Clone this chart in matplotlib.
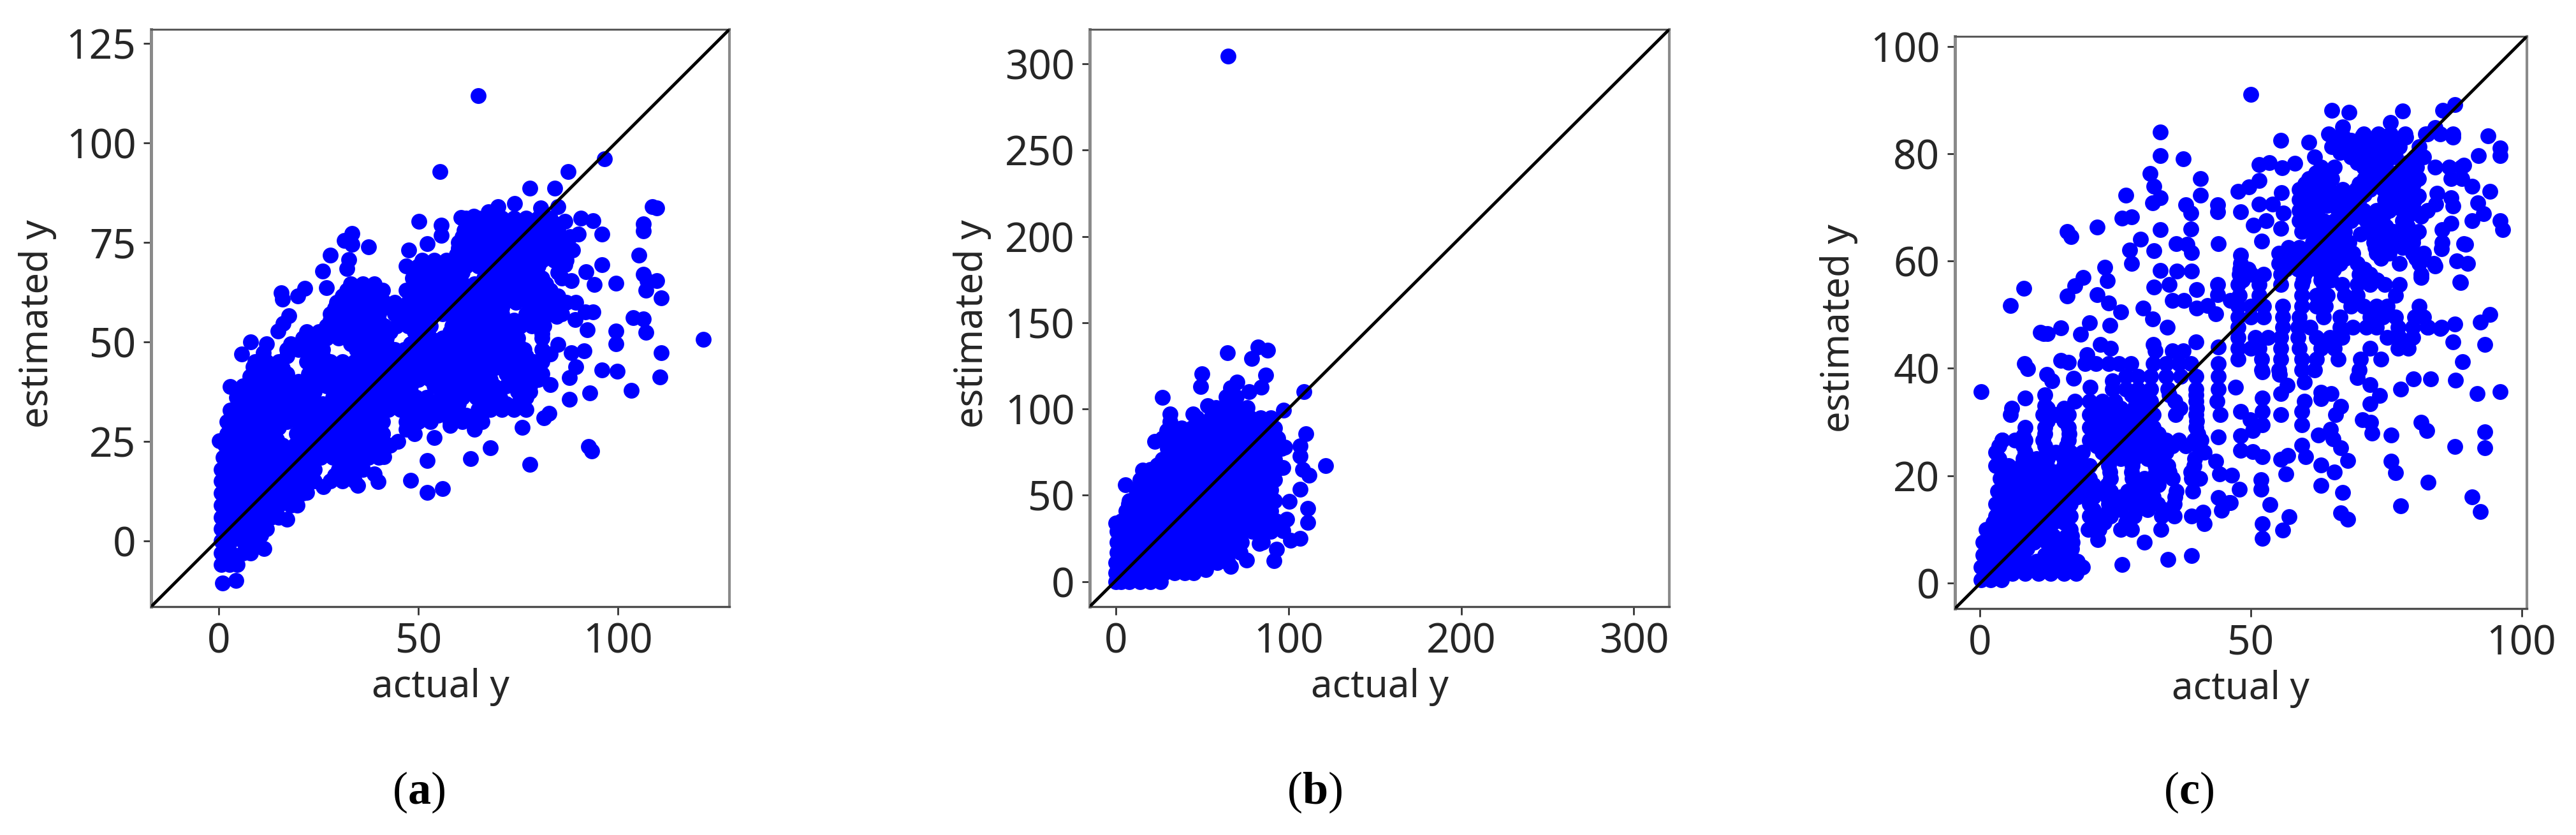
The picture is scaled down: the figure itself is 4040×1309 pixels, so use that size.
import matplotlib
matplotlib.use("Agg")
import matplotlib.pyplot as plt

W, H = 4040, 1309
DOT_COLOR = "#0000ff"

# panel a: separate points (actual, estimated)
a_sparse = [
    (65, 111.8), (55.4, 92.8), (96.6, 96), (87.5, 92.8), (78, 88.6), (84.2, 88.6), (60.7, 81.3), (63.9, 81.6),
    (67.6, 82.7), (69.9, 83.9), (74.1, 84.7), (80.7, 83.6), (85, 83.9), (50.1, 80.2), (55.8, 79.3), (55.8, 76.7),
    (52.2, 74.7), (47.6, 73), (33.3, 77.3), (31.4, 75.4), (37.5, 73.8), (27.9, 71.8), (33.3, 74.5), (32.6, 70.7),
    (32.1, 68.4), (26, 67.7), (26.9, 63.6), (21.6, 63.4), (15.6, 62.4), (19.8, 61.6), (15.9, 60.8), (17.6, 56.5),
    (16.1, 54.6), (14.8, 52.7), (8, 50), (12, 49.5), (5.7, 46.9), (11.1, 47.2), (8.5, 43.8), (7.7, 41.4), (11.9, 41.1),
    (2.8, 38.7), (6, 37.1), (2.8, 32.8), (0.1, 25.1), (0.9, -10.6), (4.3, -9.9), (11.3, -1.9), (17.1, 5.5), (19.6, 8.9),
    (22, 12.2), (26.2, 13.6), (34.8, 14), (39.9, 14.9), (38.9, 16.9), (35.9, 19.6), (41.3, 21.2), (44.8, 25), (48, 15.2),
    (52.2, 12.2), (56, 13.2), (52.3, 20.2), (63.1, 20.7), (68.1, 23.4), (78, 19.2), (76, 28.6), (81.5, 31), (82.7, 32.1),
    (87.8, 35.5), (92.7, 23.7), (93.4, 22.6), (93, 37.2), (96.1, 43), (99.8, 42.7), (103.4, 37.8), (110.6, 41.2),
    (110.9, 47.2), (121.5, 50.7), (99.6, 49.5), (99.6, 52.7), (103.8, 56.1), (106.4, 55.8), (107.1, 52.4), (110.9, 61),
    (109.8, 65.3), (106.4, 67), (107.3, 65.3), (107, 63), (99.6, 64.7), (105.3, 71.8), (106.4, 77.9), (106.4, 79.6),
    (108.7, 83.9), (109.8, 83.6), (96.1, 77), (93.8, 80.4), (90.7, 81), (96.1, 69.4), (94.1, 64.4), (92.1, 67.6),
    (93.8, 57.5), (91.8, 57.5), (92.4, 53), (91.5, 47.8), (88.4, 47.2), (87.8, 41), (89.5, 43.8), (83, 39.2), (85, 49.3),
    (84.7, 56.4), (89.3, 55.6), (90.1, 77), (88.7, 73), (86.7, 80.2), (86.7, 75), (86.7, 69.3), (88.4, 65.3), (89.5, 60),
    (81, 52.1), (58, 29), (64, 28), (49, 27), (47, 28), (54, 26), (41, 27), (66, 32), (20, 40), (26, 33.5), (44, 37),
    (38, 45), (44, 60), (44, 57), (44.5, 54), (44, 48), (52, 36), (56, 39), (70, 49), (73, 41), (81, 45), (83, 47),
]
# panel a: the filled part, estimated value -> actual values along that row
a_rows = {
    -6: [0.6, 2.6, 4.6],
    -3: [0.6, 3, 6, 8],
    0: [0.6, 3, 6, 9],
    3: [0.6, 3, 6, 9, 12],
    6: [0.6, 3, 6, 8, 13, 15],
    9: [0.6, 3, 6, 9, 12, 15, 18],
    12: [0.6, 3, 6, 9, 12, 15, 18, 21],
    15: [0.6, 3, 6, 9, 12, 15, 18, 21, 24, 28, 31, 34],
    18: [0.6, 3, 6, 9, 12, 15, 18, 21, 24, 30, 33, 36],
    21: [1, 4.5, 7.5, 10.5, 13.5, 16.5, 19.5, 22.5, 25.5, 28.5, 31.5, 34.5, 37.5, 40],
    24: [1.5, 4, 7, 10, 13, 16, 19, 22, 25, 28, 31, 34, 37, 40, 43],
    27: [2, 4.5, 7.5, 10.5, 13.5, 19.5, 22.5, 25.5, 28.5, 31.5, 34.5, 37.5, 41],
    30: [2, 5, 8, 11, 14, 17, 20, 23, 26, 29, 32, 35, 38, 41, 47, 50, 53, 58, 61, 64, 66],
    33: [3.5, 6.5, 9.5, 12.5, 15.5, 18.5, 21.5, 24.5, 27.5, 30.5, 33.5, 36.5, 39.5, 42.5, 45.5, 48, 53.5, 56.5, 59.5, 65, 68,
         71, 74, 77],
    36: [4.5, 7.5, 10.5, 13.5, 16.5, 19.5, 22.5, 28.5, 31.5, 34.5, 37.5, 40.5, 43.5, 46.5, 49.5, 55.5, 58.5, 61, 64.5, 67.5,
         70.5, 77],
    39: [6, 9, 12, 15, 18, 21, 24, 27, 30, 33, 36, 39, 42, 45, 48, 54, 57, 60, 63, 66, 69, 72, 78],
    42: [9, 11, 14, 17, 22.5, 25.5, 28.5, 31.5, 34.5, 37.5, 40.5, 43.5, 46.5, 49.5, 52.5, 55.5, 58.5, 61.5, 64.5, 67.5, 72,
         75, 78, 81],
    45: [9, 12, 15, 22, 25, 28, 31, 34, 37, 40, 43, 46, 49, 52, 55, 58, 61, 64, 67, 70, 73, 76, 79],
    48: [17, 20, 23, 26, 34.5, 37.5, 40.5, 46.5, 49.5, 52.5, 55.5, 58.5, 61.5, 64.5, 67.5, 70.5, 73.5, 76.5, 81],
    51: [21, 24, 27, 30, 33, 36, 39, 42, 50, 53, 56, 59, 62, 65, 68, 71, 74, 75, 81],
    54: [27, 30, 33, 36, 39, 41.5, 47.5, 50.5, 53, 58.5, 61.5, 64.5, 67.5, 72.5, 75.5, 78.5, 81.5],
    57: [28, 31, 34, 37, 40, 47, 50, 53, 56, 59, 62, 65, 68, 71, 77, 80, 83, 86],
    60: [29.5, 32.5, 35.5, 38.5, 41.5, 47.5, 50.5, 53.5, 56.5, 59.5, 62.5, 65.5, 68.5, 71.5, 74.5, 77.5, 80.5, 83, 87],
    63: [32, 35, 38, 41, 47, 50, 53, 56, 59, 62, 65, 68, 71, 74, 77, 80, 83],
    66: [48.5, 51.5, 54.5, 57.5, 60.5, 66.5, 69.5, 72.5, 75.5, 78.5, 81, 86],
    69: [47, 50, 53, 56, 59, 62, 65, 68, 71, 74, 77, 80, 86],
    72: [59.5, 62.5, 65.5, 68.5, 71.5, 74.5, 77.5, 80.5, 83.5, 86],
    75: [60, 63, 66, 69, 72, 75, 78, 81, 84, 87],
    78: [61.5, 64.5, 67.5, 70.5, 73.5, 76.5, 79.5, 82.5, 85],
    81: [62, 65, 68, 71, 74, 77, 80, 83],
}
# panel a: rows in between, where the picture is solid
a_mid_rows = {
    1.5: [1.8, 4.5, 7.5, 10.5],
    4.5: [1.8, 4.5, 7.5, 10.5],
    7.5: [1.8, 4.5, 7, 11, 14],
    10.5: [1.8, 4.5, 7.5, 10.5, 13.5, 16.5],
    13.5: [1.8, 4.5, 7.5, 10.5, 13.5, 16.5, 19.5],
    16.5: [1.8, 4.5, 7.5, 10.5, 13.5, 16.5, 19.5, 22.5, 29, 32],
    19.5: [2, 5, 8, 11, 14, 17, 20, 23, 31, 34],
    22.5: [2.7, 6, 9, 12, 15, 18, 21, 24, 27, 30, 33, 36, 39],
    25.5: [3, 5.5, 8.5, 11.5, 14.5, 21, 24, 27, 30, 33, 36, 39],
    28.5: [3.5, 6, 9, 12, 15, 21, 24, 27, 30, 33, 36, 39],
    31.5: [4, 7, 10, 13, 16, 19, 22, 25, 28, 31, 34, 37, 40, 51, 55, 59, 62, 65],
    34.5: [5, 8, 11, 14, 17, 20, 23, 26, 29, 32, 35, 38, 41, 44, 47, 51, 55, 60, 66, 69, 72, 75],
    37.5: [6, 9, 12, 15, 18, 21, 24, 30, 33, 36, 39, 42, 45, 48, 56, 59, 63, 66, 69, 75, 78],
    40.5: [8.5, 10, 13, 16, 23, 26, 29, 32, 35, 38, 41, 44, 47, 50, 53, 56, 59, 62, 65, 68, 74, 77, 80],
    43.5: [10, 13, 16, 24, 27, 30, 33, 36, 39, 42, 45, 48, 51, 54, 57, 60, 63, 66, 69, 73, 76, 79],
    46.5: [17, 23, 26, 35, 38, 41, 44, 47, 50, 53, 56, 59, 62, 65, 68, 71, 74, 77],
    49.5: [18, 21, 24, 33, 36, 39, 42, 48, 51, 54, 57, 60, 63, 66, 69, 72, 75],
    52.5: [22, 25, 28, 31, 34, 37, 40, 43, 49, 52, 58, 61, 64, 67, 70, 73],
    55.5: [28, 31, 34, 37, 40, 46, 49, 52, 59, 62, 65, 68, 71, 74, 77, 80],
    58.5: [29, 32, 35, 38, 41, 47, 50, 53, 56, 59, 62, 65, 68, 71, 78, 81, 84],
    61.5: [31, 34, 37, 40, 48, 51, 54, 57, 60, 63, 66, 69, 72, 75, 78, 81, 85],
    64.5: [33, 36, 39, 49, 52, 55, 58, 61, 64, 67, 70, 73, 76, 79, 82],
    67.5: [49, 52, 55, 58, 61, 67, 70, 73, 76, 79, 85],
    70.5: [51, 54, 57, 60, 63, 66, 69, 72, 75, 78, 81, 84, 87],
    73.5: [60, 63, 66, 69, 72, 75, 78, 81, 84, 87],
    76.5: [61, 64, 67, 70, 73, 76, 79, 82, 85, 88],
    79.5: [62, 65, 68, 71, 74, 77, 80, 83, 85],
}

b_sparse = [
    (65, 304.3), (64.7, 132.6), (82.6, 136), (87.9, 134.2), (78.6, 129.2), (86.8, 119.7), (50, 120.3), (49.2, 112.9),
    (70.1, 115.7), (66.4, 112.3), (84.3, 112.6), (109.1, 110.2), (26.9, 106.8), (77.2, 110.2), (97.3, 99.4),
    (53.2, 101.8), (44.7, 97.2), (31.4, 97.2), (31.4, 92.6), (110, 85.8), (106.9, 78.8), (106.9, 72.6), (121.6, 67.1),
    (108.3, 64.9), (112, 61.8), (106.9, 53.5), (100.4, 46.5), (111.1, 42.5), (111.1, 34.2), (97, 29.5), (106.9, 24.9),
    (101.2, 24), (93.3, 18.8), (91.6, 12), (75.8, 12.6), (66.7, 8.9), (52.3, 7.1), (5.7, 56), (15.6, 64.6), (24, 67.4),
    (0, 33.8), (7.4, 44.9), (22.6, 81.2), (29.7, 87.4), (98, 78), (97, 66), (99, 36), (83, 22),
]
b_rows = {
    0: [0, 3, 8, 14, 20, 26],
    5: [0, 4, 10, 16, 22, 28, 34, 40, 45],
    11: [0, 5, 11, 17, 23, 29, 35, 41, 47, 53, 59, 65],
    17: [1, 6, 12, 18, 24, 30, 36, 42, 48, 54, 60, 66, 72],
    23: [1, 7, 13, 19, 25, 31, 37, 43, 49, 55, 61, 67, 73, 85],
    29: [1, 7, 13, 19, 25, 31, 37, 43, 49, 55, 61, 67, 73, 79, 85, 90],
    35: [3, 9, 15, 21, 27, 33, 39, 45, 51, 57, 63, 69, 75, 81, 87, 93],
    41: [6, 12, 18, 24, 30, 36, 42, 48, 54, 60, 66, 72, 78, 84, 90],
    47: [8, 14, 20, 26, 32, 38, 44, 50, 56, 62, 68, 74, 80, 86, 92],
    53: [12, 18, 24, 30, 36, 42, 48, 54, 60, 66, 72, 78, 84, 90],
    59: [14, 20, 26, 32, 38, 44, 50, 56, 62, 68, 74, 80, 86, 92],
    65: [20, 26, 32, 38, 44, 50, 56, 62, 68, 74, 80, 86, 93],
    71: [27, 33, 39, 45, 51, 57, 63, 69, 75, 81, 87, 92],
    77: [30, 36, 42, 48, 54, 60, 66, 72, 78, 84, 90, 96],
    83: [27, 34, 40, 46, 52, 58, 64, 70, 76, 82, 88, 94],
    89: [31, 38, 44, 50, 56, 62, 68, 74, 80, 86, 92],
    95: [47, 55, 60, 66, 72, 78, 84, 90],
    101: [58, 64, 70, 76],
    107: [64, 70],
}

c_sparse = [
    (50, 91.1), (65, 88.1), (68.2, 87.7), (78, 88), (85.5, 88.1), (87.7, 89.2), (67, 85), (75.8, 85.9), (33.3, 84),
    (33.3, 79.7), (37.5, 79.1), (55.6, 82.5), (60.7, 82.2), (70.6, 83.4), (78.6, 83.1),
    (82.3, 83.7), (84.1, 84.9), (87.3, 83.1), (93.8, 83.4), (96, 81.1), (96, 79.7), (92, 79.7), (89.4, 77.9),
    (31.4, 76.3), (40.7, 75.4), (32.1, 74), (40.7, 72.3), (26.9, 72.3), (33.3, 71.8), (31.9, 70.8), (38, 70.5),
    (38.9, 69), (43.9, 70.5), (43.9, 69.2), (49.7, 73.8), (47.7, 73), (51.6, 75), (51.6, 78), (53.4, 78.4),
    (55.8, 77.4), (58.1, 78.2), (55.7, 72.8), (48.1, 69.2), (51.6, 70.6), (54, 70.6), (56, 69), (50.5, 66.7), (52.8, 67.5),
    (55.6, 66.1), (52, 63.7), (44, 63.3), (38.9, 66), (33.3, 65.9), (26.2, 68), (28, 68.2), (16.1, 65.5), (16.8, 64.6),
    (21.7, 66.3), (29.6, 64.1), (36.2, 63.3), (38.2, 63.1), (39.1, 61.6), (32.1, 61.9), (27.6, 62.1), (28, 59.6),
    (23.1, 58.8), (23.5, 56.4), (33.3, 58.3), (36.4, 58.1), (39.1, 58.1), (19.1, 56.9), (17.5, 55.4), (16.1, 53.5),
    (21.7, 53.7), (8.1, 54.9), (5.7, 51.7), (32.1, 55.1), (35, 55.6), (40, 54.7), (35.5, 52.7), (37.7, 52.7),
    (43.9, 55.6), (43.9, 53.7), (23.8, 52.2), (26, 50.5), (24, 48), (20.2, 48.5), (18.6, 46.4), (15, 47.5),
    (11.2, 46.7), (12.5, 46.5), (30.1, 51.2), (31.9, 49.2), (34.6, 47.7), (40, 51.2), (42, 51.7), (43.6, 50.2),
    (46.3, 52.7), (22.2, 44.5), (24.1, 43.7), (32, 44.5), (39.9, 44.9), (44, 44), (11.8, 46.5), (19.8, 42.5),
    (26.2, 3.4), (34.7, 4.4), (39.1, 5.1), (30.4, 7.6), (21.8, 8), (52.2, 8.3), (55.9, 9.8), (52.2, 11), (57.1, 12.3),
    (53.5, 14.6), (51.9, 17.5), (51.9, 19.2), (47.9, 17.5), (46.3, 15), (39.1, 12.4), (41.4, 11), (41.2, 13.2), (44.6, 13.5),
    (44, 15.9), (46, 14.9), (44.2, 20.3), (46.5, 20.1), (43.6, 22.7), (44, 27.2), (44.4, 31.4), (43.8, 33.8), (44, 36.1),
    (44, 38.5), (44, 40.9), (0.2, 35.6), (12, 35.1), (20.4, 36.5), (24.5, 36.1), (12.4, 38.9), (13.3, 37.7), (17.3, 38.1),
    (24.5, 37.7), (8.2, 40.9), (8.8, 39.9), (14.9, 41.5), (16.3, 41.1), (5.9, 32.5), (8.4, 34.5), (12, 33), (5.7, 31.4),
    (4.1, 26.6), (8, 27.4), (56.5, 20.3), (55.6, 23), (56.9, 23.8), (52.2, 23.5), (50.4, 24.5),
    (48.1, 24.7), (48.1, 27.4), (50.4, 28.4), (52.2, 29.4), (48.1, 31.9), (49.9, 30.4), (52.2, 34.4), (52.2, 32),
    (55.6, 31.4), (55.6, 35.3), (56.7, 36.8), (55.3, 38.8), (47.2, 36.5), (52.2, 39.3),
    (60.1, 23.5), (59.4, 25.6), (59.4, 29.4), (59.4, 31.9), (59.9, 33.9), (59.9, 37.4),
    (63, 22), (63, 18.2), (65.5, 20.7), (67, 16.8), (66.6, 13.1), (67.9, 11.8), (67.9, 22.8), (66.6, 25.2),
    (65.2, 26.9), (62.5, 27.6), (64.7, 28.6), (65.7, 31.4), (66.6, 32.9), (63, 35.5), (64.8, 35.3), (63, 34.3),
    (69.7, 38.3), (72, 37), (73.8, 34.9), (72, 33.4), (70.6, 30.4), (72.2, 29.9), (72.4, 27.9), (75.9, 27.6), (75.9, 22.7),
    (76.7, 20.5), (77.7, 14.4), (77.7, 36.1), (80.1, 38), (83.2, 38), (87.8, 37.8), (91.8, 35.3), (96, 35.6), (93.2, 44.5),
    (89.1, 41.2), (94.2, 50), (92.4, 48.6), (87.7, 48.3), (87.4, 44.9), (85, 47.4), (93.2, 28.1), (93.2, 25.2), (87.7, 25.4),
    (81.4, 29.9), (82.5, 28.4), (82.8, 18.7), (90.9, 16), (92.4, 13.3), (88.6, 56.1), (89.3, 63.3), (90, 59.6), (88.1, 60),
    (84.1, 59.1), (81.4, 56.9), (82.8, 47.7), (90.9, 67.5), (93, 68.8), (91.9, 70.8), (94.2, 73), (90.9, 74), (96, 67.5),
    (96.5, 65.8), (87, 71.8), (87.4, 70.2), (87, 67), (85.4, 65.9), (85.4, 63.5), (85.2, 62.3), (84.4, 72.6), (84.2, 70.6),
    (81, 72.2), (89.7, 63.1), (88.7, 56), (48.1, 61.1), (48.1, 59.5), (70.3, 65),
]
# panel c, lower left: estimated value -> actual values along that row
c_rows = {
    0.5: [0.2, 2, 4],
    2.9: [0.2, 2.5, 4.9, 7.3, 9.6, 12, 14.3, 16.7, 19],
    5.2: [0.6, 3, 5.3, 7.7, 12, 14.3, 16.7],
    7.6: [0.6, 3, 5.3, 7.7, 10, 12.4, 14.7, 17.1],
    10: [1.2, 3.3, 5.7, 8, 10.4, 12.4, 16.7, 20, 22, 26, 28, 33.4],
    12.4: [2.9, 5.3, 7.6, 10, 12.4, 14.7, 16.7, 20.2, 22.2, 24.1, 28.5, 33.6, 35.9],
    14.75: [2.9, 5.3, 7.6, 10, 12.4, 14.7, 16.7, 20.2, 23.8, 25.7, 28.1, 30.4, 32.8, 35.9],
    17.1: [3.3, 5.7, 8, 10.4, 12.8, 15.1, 17.5, 19.8, 22.2, 24.1, 27.3, 29.2, 31.6, 36.3, 39.3],
    19.5: [3.7, 6.1, 8.4, 10.8, 12.8, 15.5, 17.9, 20.2, 24.1, 28.1, 30.4, 32.8, 35.5, 39.1, 40.6],
    21.9: [2.9, 5.3, 7.6, 10, 12.4, 15.5, 17.9, 20.2, 23.8, 28.1, 32.4, 34.7, 39.5],
    24.3: [2.9, 8.4, 12.4, 14, 16.7, 19, 22.6, 24.9, 27.3, 29.6, 32, 34.4, 41.4],
    26.6: [4.1, 6.5, 8.4, 11.6, 16.3, 20.2, 22.6, 24.9, 27.3, 29.6, 32, 34.4, 36.7, 39.5, 40.8],
    29: [8.4, 12, 16.3, 20.2, 22.6, 24.9, 27.3, 29.6, 32, 39.9],
    31.4: [11.6, 14, 16.3, 20.2, 22.6, 24.9, 27.3, 29.6, 32, 36.1, 39.9],
    33.8: [17.5, 20.2, 22.6, 24.9, 28.8, 31.6, 36, 39.9],
    36.1: [26.9, 29.2, 31.6, 34.7, 39.9],
    38.5: [26.9, 29.2, 31.6, 34.4, 37.1, 39.9],
    40.9: [19.4, 21.4, 23.8, 25.7, 27.9, 32, 34.4, 36.7, 39],
    43.3: [32.4, 35.5, 37.5],
}
# panel c, lower left: rows in between, where the picture is solid
c_mid_rows = {
    1.7: [1.3, 3.6, 6, 8.4, 10.8, 13, 15.5, 17.8],
    4: [1.8, 4, 6.5, 8.5, 10.5, 13, 15.5, 18],
    6.4: [1.8, 4, 6.5, 8.7, 13, 15.5, 17],
    8.8: [1.8, 4, 6.5, 8.9, 11, 13.5, 16, 17],
    11.2: [2.5, 4.5, 6.8, 9, 11.5, 13.5, 15.5, 21, 23, 27],
    13.6: [4, 6.5, 8.8, 11, 13.5, 15.7, 21, 23.8, 26, 29, 31, 34],
    16: [4, 6.5, 8.8, 11.2, 13.5, 15.9, 18, 21, 23.5, 26, 28.7, 30.5, 32, 36],
    18.3: [4.7, 7, 9.6, 11.8, 14.2, 16.7, 19, 21, 23.5, 28.7, 31, 33],
    20.7: [4.3, 6.8, 9.2, 11.4, 14, 16.7, 19, 24, 28, 32.5, 35, 39],
    23.1: [3.5, 8, 10.5, 12.5, 15.5, 18, 23.5, 26, 28.5, 31, 33.5, 39.7],
    25.5: [3.5, 8, 12, 16, 21.5, 23.7, 26, 28.5, 30.8, 33, 35.5, 38, 40.2],
    27.8: [12, 16.5, 21.5, 23.7, 26, 28.5, 30.8, 33, 40.3],
    30.2: [12.5, 15.5, 21.5, 23.7, 26, 28.5, 30.8, 40],
    32.6: [12.5, 15.5, 21.5, 23.7, 26, 28.5, 30.8, 37, 40],
    35: [28, 31, 35, 39.9],
}
# panel c, upper right
c_upper_rows = {
    39.7: [52, 55.2, 59.5, 61.8, 70],
    41.7: [47.7, 52, 55.6, 59.5, 62.2, 66.2, 70.3, 74],
    43.7: [47.7, 50, 51.6, 55.6, 59, 63, 65.4, 72, 77.2, 79.1],
    45.7: [47.7, 50.9, 53.2, 55.6, 58.7, 62.2, 64.6, 66.9, 75.2, 77.5, 79.9],
    47.6: [47.7, 55.9, 58.7, 61, 66.5, 68.9, 71.3, 73.2, 77.2, 79.9, 82.6, 85.2],
    49.6: [47.7, 50, 52.4, 55.9, 59, 63.4, 66.5, 72, 74.4, 76.8, 80.3, 81.9],
    51.6: [47.7, 50, 52.4, 55.9, 59.5, 62.2, 63.8, 68.5, 70.9, 73.2, 75.2, 81.1],
    53.6: [47.9, 51.6, 59.5, 62.2, 64.2, 67.3, 69.7, 76.8],
    55.6: [47.7, 51.6, 55.6, 59.5, 63.4, 66.9, 69.7, 72, 74.8, 77.5],
    57.5: [47.9, 50.1, 52.4, 55.6, 59.9, 63, 70, 72, 81.4],
    59.5: [55.2, 57.5, 59.9, 62.2, 64.2, 66.5, 69.7, 77.5, 81.1, 83.8],
    61.5: [55.2, 57.9, 60.3, 63.8, 66.9, 68.9, 73.2, 75.6, 79.9, 81.9],
    63.5: [61.4, 63.8, 66.2, 68.1, 72.8, 75.2, 77.5, 79.9],
    65.5: [59.5, 63, 65, 67.3, 71.7, 74, 76.4, 78.7, 81],
    67.5: [59, 61.4, 63.4, 65.4, 68.5, 71.3, 73.6, 78],
    69.4: [59, 61.4, 66.2, 68.5, 70.9, 73.2, 75.6, 78, 80.3, 82.6],
    71.4: [59, 61, 63, 65.4, 67.7, 70, 74.8, 78, 80.3],
    73.4: [59, 61, 64.5, 67, 69.5, 72, 74.5, 77, 79.5],
    75.4: [60.7, 63, 65, 71, 73.5, 76, 78.5, 81, 87, 89],
    77.5: [63, 65.5, 70.9, 73.2, 78, 80.6, 84, 86.6, 88.9],
    79.4: [61.8, 68.5, 70.9, 73.2, 76.8, 80.3, 81.9],
    81.3: [65, 67.7, 70, 72.4, 74.8, 77.5, 81.1],
    83.7: [64.4, 66.9, 70.9, 73.6, 75.8, 78.5, 82.6, 85, 87.4],
}
c_upper_mid_rows = {
    56.5: [48.5, 59.7, 63, 64.8, 70.7, 73.3],
    58.5: [48, 49.5, 56.5, 58.7, 60.7, 63.2, 65.3, 71],
    60.5: [56, 58.7, 61, 63, 65.4, 67.5, 74, 80.5],
    62.5: [57, 59, 62.5, 65, 67, 73, 75.5, 78],
    64.5: [62, 64, 66, 72.8, 75, 77.5, 80],
    66.5: [60.2, 62.4, 64.4, 66.4, 72.5, 75, 79],
    68.4: [60.2, 62.4, 67.5, 69.7, 72, 74.4, 79, 81.5],
    70.4: [60, 62, 64.2, 66.5, 69, 76, 79],
    72.4: [60, 62.5, 66, 68.5, 71, 76, 78.5],
    74.4: [60, 62, 64, 70, 72.8, 75.2, 77.7, 80],
    76.4: [62, 64, 72, 74.8, 77, 79.6],
    78.4: [69.7, 72, 75, 79],
    80.3: [66.5, 69, 71.9, 74, 75.8],
    82.5: [65.7, 68.5, 72.2, 74.7, 77],
}

tick_a_x = [0, 50, 100]
tick_a_y = [0, 25, 50, 75, 100, 125]
tick_b_x = [0, 100, 200, 300]
tick_b_y = [0, 50, 100, 150, 200, 250, 300]
tick_c_x = [0, 50, 100]
tick_c_y = [0, 20, 40, 60, 80, 100]


def rows_to_xy(sparse, *rows):
    xs = [p[0] for p in sparse]
    ys = [p[1] for p in sparse]
    for group in rows:
        for est, actual in group.items():
            xs.extend(actual)
            ys.extend([est] * len(actual))
    return xs, ys


plt.rcParams["font.family"] = ["Noto Sans", "DejaVu Sans"]
plt.rcParams["mathtext.fontset"] = "custom"
plt.rcParams["mathtext.bf"] = "Liberation Serif:bold"
plt.rcParams["mathtext.rm"] = "Liberation Serif"

fig = plt.figure(figsize=(W / 100, H / 100), dpi=100, facecolor="white")


def draw_panel(box, xy, xlim, ylim, xticks, yticks, caption, cap_x, ylabel_x):
    left, top, right, bottom = box
    ax = fig.add_axes([left / W, 1 - bottom / H, (right - left) / W, (bottom - top) / H])
    ax.scatter(xy[0], xy[1], s=320, color=DOT_COLOR, linewidths=0, zorder=2)
    ax.plot(xlim, ylim, color="black", lw=3.5, zorder=3)
    ax.set_xlim(xlim)
    ax.set_ylim(ylim)
    ax.set_xticks(xticks)
    ax.set_yticks(yticks)
    ax.tick_params(labelsize=46, length=9, width=2, color="#333333", labelcolor="#262626", pad=8)
    ax.set_xlabel("actual y", fontsize=43, color="#262626", labelpad=6)
    ax.set_ylabel("estimated y", fontsize=43, color="#262626")
    ax.yaxis.set_label_coords((ylabel_x - left) / (right - left), 0.49)
    for side, col, lw in (("left", "#8a8a8a", 3.6), ("right", "#8a8a8a", 3.0), ("top", "#5a5a5a", 2.2), ("bottom", "#4d4d4d", 2.4)):
        ax.spines[side].set_color(col)
        ax.spines[side].set_linewidth(lw)
    fig.text(cap_x / W, 1 - 1242 / H, f"(${{\\mathbf{{{caption}}}}}$)", family="Liberation Serif",
             fontsize=52, ha="center", va="center", color="black")


draw_panel((237, 46, 1144, 951), rows_to_xy(a_sparse, a_rows, a_mid_rows), (-17, 128), (-16.5, 128.5),
           tick_a_x, tick_a_y, "a", 657, 89)
draw_panel((1709, 46, 2618, 951), rows_to_xy(b_sparse, b_rows), (-15, 320.5), (-14.5, 320),
           tick_b_x, tick_b_y, "b", 2062, 1555)
draw_panel((3066, 57, 3963, 954), rows_to_xy(c_sparse, c_rows, c_mid_rows, c_upper_rows, c_upper_mid_rows),
           (-4.6, 101), (-4.8, 101.9), tick_c_x, tick_c_y, "c", 3433, 2914)

fig.savefig("out.png", dpi=100)
